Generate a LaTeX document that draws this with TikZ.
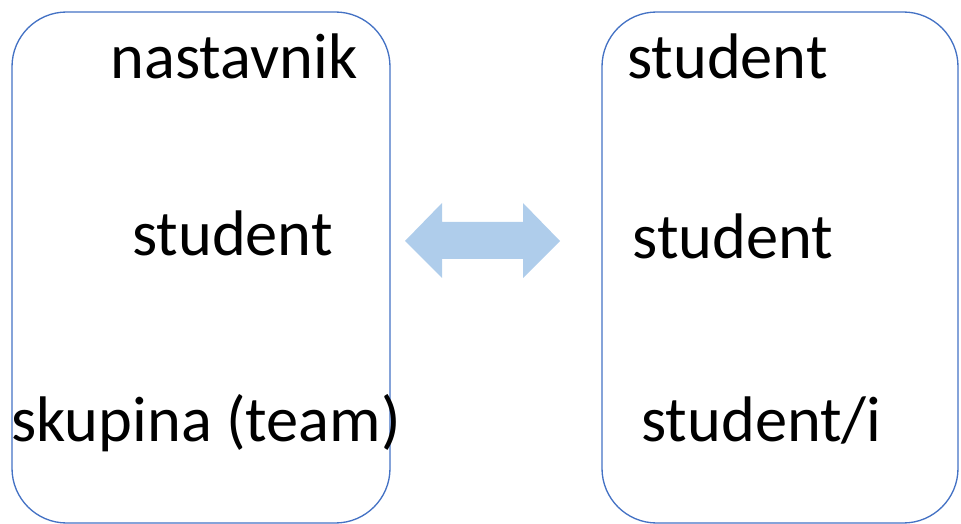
\documentclass[tikz,border=0pt]{standalone}
\usepackage{fontspec}
\setmainfont{Carlito}
\definecolor{boxline}{HTML}{4472C4}
\definecolor{arrowfill}{HTML}{AFCDEB}

\begin{document}
\begin{tikzpicture}[x=0.75pt,y=-0.75pt,
    groupbox/.style={draw=boxline,line width=1pt,rounded corners=41pt,inner sep=0pt},
    word/.style={anchor=base,inner sep=0pt,font=\fontsize{48.3}{58}\selectfont}]
      \useasboundingbox (0,0) rectangle (961,524);
      \draw
        (201,267.5) node[groupbox,minimum width=283.5pt,minimum height=383.25pt] (left){}
        (780,267.5) node[groupbox,minimum width=267pt,minimum height=383.25pt] (right){};
      \begin{scope}
        \node[word] (teacher) at (234,79) {nastavnik};
        \node[word] (student1) at (232.5,256) {student};
        \node[word] (team) at (206,441) {skupina (team)};
        \node[word] (student2) at (727.5,79) {student};
        \node[word] (student3) at (733,259) {student};
        \node[word] (students) at (761.5,441) {student/i};
      \end{scope}
      \fill[arrowfill] (405,241) -- (442,203) -- (442,222) -- (523,222) -- (523,203)
        -- (560,241) -- (523,278) -- (523,259) -- (442,259) -- (442,278) -- cycle;
    \end{tikzpicture}
\end{document}
